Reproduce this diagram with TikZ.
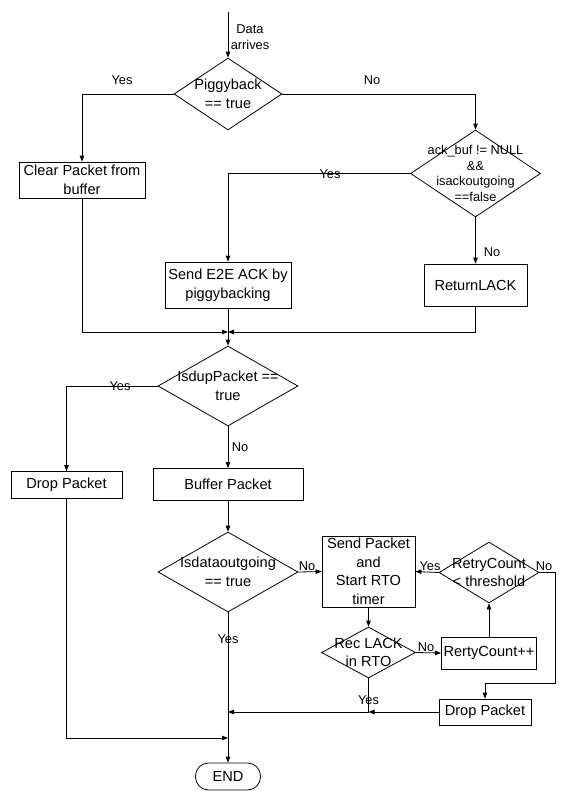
\documentclass[tikz,border=0pt]{standalone}
\usepackage{fontspec}
\setmainfont{Liberation Sans}
\usetikzlibrary{shapes.geometric,arrows.meta}
\tikzset{
  big/.style={font=\fontsize{14.6}{18.5}\selectfont},
  small/.style={font=\fontsize{12.8}{15.8}\selectfont},
  box/.style={draw, rectangle, inner sep=0pt, align=center, big},
  dia/.style={draw, diamond, inner sep=0pt},
  dtxt/.style={inner sep=0pt, align=center, big},
  lbl/.style={inner sep=0pt, align=center, small},
  flow/.style={-{Triangle[length=6pt,width=4.5pt]}},
  every path/.style={line width=0.8pt}
}
\begin{document}
\begin{tikzpicture}[x=1pt,y=-1pt]
\useasboundingbox (0,0) rectangle (569,793);

% decision and process nodes
\node[dia, minimum width=108, minimum height=72] (d1) at (228,94) {};
\node[dtxt] (d1t) at (d1) {Piggyback\\== true};

\node[box, minimum width=126, minimum height=36] (clr) at (82,180) {Clear Packet from\\buffer};

\node[dia, minimum width=130, minimum height=87] (d2) at (475.5,173.5) {};
\node[lbl] (d2t) at (d2) {ack\_buf != NULL\\\&\&\\isackoutgoing\\==false};

\node[box, minimum width=126, minimum height=46] (e2e) at (228,285) {Send E2E ACK by\\piggybacking};
\node[box, minimum width=103, minimum height=42] (rl) at (475.5,285) {ReturnLACK};

\coordinate (m) at (228,332);

\node[dia, minimum width=140, minimum height=80] (d3) at (228,386) {};
\node[dtxt] (d3t) at (d3) {IsdupPacket ==\\true};

\node[box, minimum width=111, minimum height=27] (dp1) at (66.5,485) {Drop Packet};
\node[box, minimum width=150, minimum height=32] (buf) at (228,484.5) {Buffer Packet};

\node[dia, minimum width=140, minimum height=80] (d4) at (228,572) {};
\node[dtxt] (d4t) at (d4) {Isdataoutgoing\\== true};

\node[box, minimum width=93, minimum height=71] (send) at (368.5,571.5) {Send Packet\\and\\Start RTO\\timer};

\node[dia, minimum width=100, minimum height=61] (d5) at (489,572.5) {};
\node[dtxt] (d5t) at (d5) {RetryCount\\< threshold};

\node[dia, minimum width=94, minimum height=51] (rec) at (368.5,652.5) {};
\node[dtxt] (rect) at (rec) {Rec LACK\\in RTO};

\node[box, minimum width=95, minimum height=32] (rc) at (489,653) {RertyCount++};
\node[box, minimum width=92, minimum height=26] (dp2) at (485,712) {Drop Packet};

\node[draw, rectangle, rounded corners=13pt, minimum width=65, minimum height=27, inner sep=0pt, big] (end) at (228,776.5) {END};

\coordinate (start) at (228,12);
\coordinate (c1) at (555,683);
\coordinate (j1) at (228,712);
\coordinate (j2) at (368.5,712);
\coordinate (j3) at (228,738);

% connectors
\draw[flow] (start) -- (d1.north);
\node[lbl] (la) at (250,37) {Data\\arrives};

\draw[flow] (d1.west) -| (clr.north);
\node[lbl] (l1) at (122,80) {Yes};
\draw[flow] (d1.east) -| (d2.north);
\node[lbl] (l2) at (372,80) {No};

\draw[flow] (d2.west) -| (e2e.north);
\node[lbl] (l3) at (330,174) {Yes};
\draw[flow] (d2.south) -- (rl.north);
\node[lbl] (l4) at (492,252) {No};

\draw[flow] (clr.south) |- (m);
\draw[flow] (rl.south) |- (m);
\draw[flow] (e2e.south) -- (d3.north);

\draw[flow] (d3.west) -| (dp1.north);
\node[lbl] (l5) at (120,386) {Yes};
\draw[flow] (d3.south) -- (buf.north);
\node[lbl] (l6) at (240,447) {No};

\draw[flow] (buf.south) -- (d4.north);

\draw[flow] (d4.east) -- (send.west);
\node[lbl] (l7) at (307,566) {No};

\draw[flow] (send.south) -- (rec.north);
\draw[flow] (rec.east) -- (rc.west);
\node[lbl] (l8) at (426,647) {No};

\draw[flow] (rc.north) -- (d5.south);
\draw[flow] (d5.west) -- (send.east);
\node[lbl] (l9) at (430,566) {Yes};

\draw[flow] (d5.east) -| (c1) -| (dp2.north);
\node[lbl] (l10) at (544,566) {No};

\draw[flow] (dp2.west) -- (j2);
\draw[flow] (rec.south) |- (j1);
\node[lbl] (l11) at (368.5,700) {Yes};

\draw[flow] (d4.south) -- (end.north);
\node[lbl] (l12) at (228,639) {Yes};

\draw[flow] (dp1.south) |- (j3);
\end{tikzpicture}
\end{document}
